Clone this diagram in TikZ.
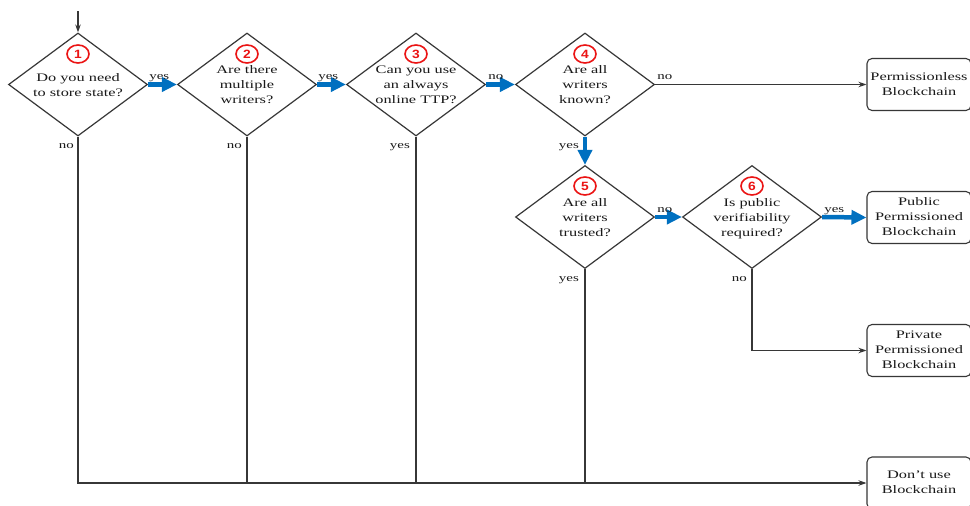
\documentclass[tikz,border=0pt]{standalone}
\usepackage{fontspec}
\setmainfont{Liberation Serif}
\setsansfont{Liberation Sans}
\usepackage{graphicx}
\usetikzlibrary{shapes.geometric,arrows.meta,calc}
\definecolor{flowblue}{RGB}{0,112,192}
\definecolor{linegray}{RGB}{55,55,55}
\definecolor{numred}{RGB}{235,20,20}
\newcommand\qtext[1]{\scalebox{1.42}[1]{\begin{tabular}{@{}c@{}}#1\end{tabular}}}
\newcommand\ltext[1]{\scalebox{1.42}[1]{#1}}
\begin{document}
\begin{tikzpicture}[x=1pt,y=-1pt,
 decision/.style={diamond, draw=linegray, line width=1.2pt, minimum width=139pt, minimum height=103pt, inner sep=0pt},
 qlabel/.style={text=black!90, font=\fontsize{11.5}{15}\selectfont, inner sep=0pt},
 endbox/.style={draw=linegray, line width=1.1pt, rounded corners=5pt, minimum width=104pt, minimum height=52pt, inner sep=0pt, text=black!90, font=\fontsize{11.5}{15}\selectfont},
 numcircle/.style={ellipse, draw=numred, line width=1.6pt, minimum width=22pt, minimum height=18pt, inner sep=0pt, text=numred, font=\sffamily\bfseries\fontsize{12}{12}\selectfont},
 bluearrow/.style={draw=flowblue, line width=4.5pt, -{Triangle[length=15pt,width=14pt]}},
 thinarrow/.style={draw=linegray, line width=1.1pt, -{Stealth[length=8pt,width=5.5pt]}},
 thinline/.style={draw=linegray, line width=1.1pt},
 edgelabel/.style={text=black!90, font=\fontsize{10.5}{12}\selectfont, inner sep=0pt},
]
\useasboundingbox[fill=white] (0,0) rectangle (970,506);

\coordinate (start) at (78,11);
\node[decision] (d1) at (78,84.5) {};
\node[decision] (d2) at (247,84.5) {};
\node[decision] (d3) at (416,84.5) {};
\node[decision] (d4) at (585,84.5) {};
\node[decision] (d5) at (585,217) {};
\node[decision] (d6) at (752,217) {};

\node[qlabel] (t1) at ($(d1.center)+(0,1)$) {\qtext{Do you need\\to store state?}};
\node[qlabel] (t2) at ($(d2.center)+(0,1)$) {\qtext{Are there\\multiple\\writers?}};
\node[qlabel] (t3) at ($(d3.center)+(0,1)$) {\qtext{Can you use\\an always\\online TTP?}};
\node[qlabel] (t4) at ($(d4.center)+(0,1)$) {\qtext{Are all\\writers\\known?}};
\node[qlabel] (t5) at ($(d5.center)+(0,1)$) {\qtext{Are all\\writers\\trusted?}};
\node[qlabel] (t6) at ($(d6.center)+(0,1)$) {\qtext{Is public\\verifiability\\required?}};

\node[numcircle] (c1) at ($(d1.center)+(0,-30.5)$) {\scalebox{1.15}[1]{1}};
\node[numcircle] (c2) at ($(d2.center)+(0,-30.5)$) {\scalebox{1.15}[1]{2}};
\node[numcircle] (c3) at ($(d3.center)+(0,-30.5)$) {\scalebox{1.15}[1]{3}};
\node[numcircle] (c4) at ($(d4.center)+(0,-30.5)$) {\scalebox{1.15}[1]{4}};
\node[numcircle] (c5) at ($(d5.center)+(0,-31)$) {\scalebox{1.15}[1]{5}};
\node[numcircle] (c6) at ($(d6.center)+(0,-31)$) {\scalebox{1.15}[1]{6}};

\node[endbox] (b1) at (919,84.5) {\qtext{Permissionless\\Blockchain}};
\node[endbox] (b2) at (919,217.5) {\qtext{Public\\Permissioned\\Blockchain}};
\node[endbox] (b3) at (919,350.5) {\qtext{Private\\Permissioned\\Blockchain}};
\node[endbox] (b4) at (919,483) {\qtext{Don't use\\Blockchain}};

\draw[thinarrow] (start) -- (d1.north);
\draw[bluearrow] (d1.east) -- (d2.west);
\draw[bluearrow] (d2.east) -- (d3.west);
\draw[bluearrow] (d3.east) -- (d4.west);
\draw[thinarrow] (d4.east) -- (b1.west);
\draw[bluearrow] (d4.south) -- (d5.north);
\draw[bluearrow] (d5.east) -- (d6.west);
\draw[bluearrow] (d6.east) -- (b2.west);
\draw[thinarrow] (d6.south) |- (b3.west);
\draw[thinarrow] (d1.south) |- (b4.west);
\draw[thinline] (d2.south) -- (d2.south |- b4.west);
\draw[thinline] (d3.south) -- (d3.south |- b4.west);
\draw[thinline] (d5.south) -- (d5.south |- b4.west);

\node[edgelabel, anchor=base west] (l12) at ($(d1.east)+(1,-5)$) {\ltext{yes}};
\node[edgelabel, anchor=base west] (l23) at ($(d2.east)+(1,-5)$) {\ltext{yes}};
\node[edgelabel, anchor=base west] (l34) at ($(d3.east)+(2,-5)$) {\ltext{no}};
\node[edgelabel, anchor=base west] (l4b) at ($(d4.east)+(2,-5)$) {\ltext{no}};
\node[edgelabel, anchor=base west] (l56) at ($(d5.east)+(2,-5)$) {\ltext{no}};
\node[edgelabel, anchor=base west] (l6b) at ($(d6.east)+(2,-5)$) {\ltext{yes}};
\node[edgelabel, anchor=base east] (l1d) at ($(d1.south)+(-4,12)$) {\ltext{no}};
\node[edgelabel, anchor=base east] (l2d) at ($(d2.south)+(-5,12)$) {\ltext{no}};
\node[edgelabel, anchor=base east] (l3d) at ($(d3.south)+(-6,12)$) {\ltext{yes}};
\node[edgelabel, anchor=base east] (l45) at ($(d4.south)+(-6,12)$) {\ltext{yes}};
\node[edgelabel, anchor=base east] (l5d) at ($(d5.south)+(-6,12)$) {\ltext{yes}};
\node[edgelabel, anchor=base east] (l6d) at ($(d6.south)+(-5,12)$) {\ltext{no}};
\end{tikzpicture}
\end{document}
